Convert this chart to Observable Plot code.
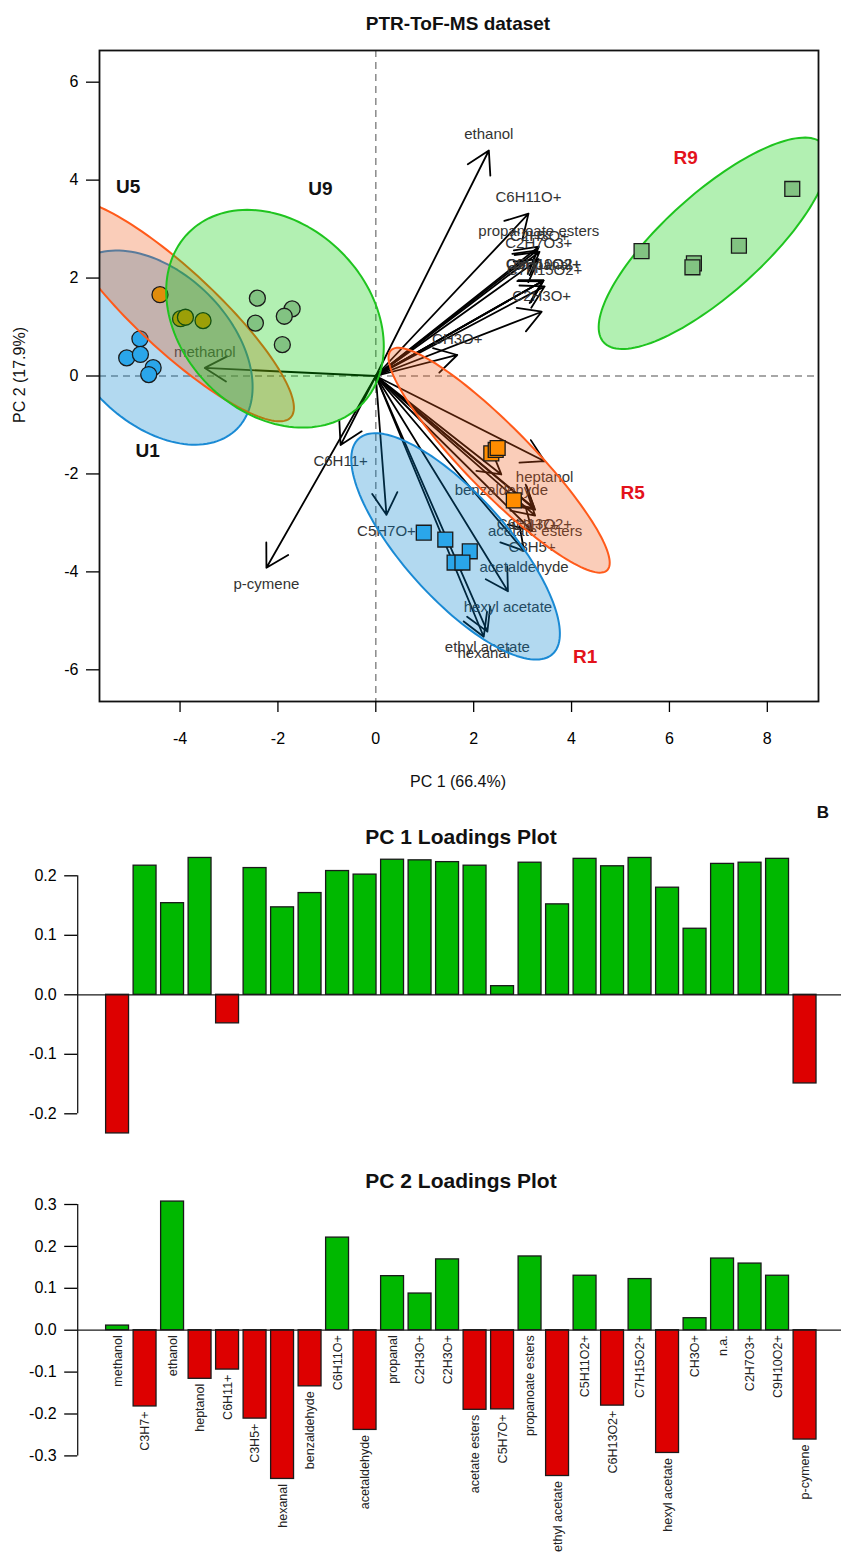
<!DOCTYPE html>
<html><head><meta charset="utf-8">
<script src="https://cdn.jsdelivr.net/npm/d3@7"></script>
<script src="https://cdn.jsdelivr.net/npm/@observablehq/plot@0.6"></script>
<style>
body{margin:0;background:#fff;font-family:'Liberation Sans',Arial,Helvetica,sans-serif;}
#wrap{position:relative;width:841px;height:1555px;overflow:hidden;background:#fff;}
.blk{position:absolute;left:0;}
.lab{position:absolute;transform:translate(-50%,-50%);white-space:nowrap;line-height:1;color:#111;}
</style></head>
<body><div id="wrap"></div>
<script>
// ---------------- data ----------------
const variables = ["methanol","C3H7+","ethanol","heptanol","C6H11+","C3H5+","hexanal","benzaldehyde","C6H11O+","acetaldehyde","propanal","C2H3O+","C2H3O+","acetate esters","C5H7O+","propanoate esters","ethyl acetate","C5H11O2+","C6H13O2+","C7H15O2+","hexyl acetate","CH3O+","n.a.","C2H7O3+","C9H10O2+","p-cymene"];
const pc1Loadings = [-0.233,0.217,0.154,0.230,-0.048,0.213,0.147,0.171,0.208,0.202,0.227,0.226,0.223,0.217,0.0145,0.222,0.152,0.2285,0.216,0.230,0.180,0.111,0.220,0.222,0.2285,-0.149];
const pc2Loadings = [0.011,-0.182,0.307,-0.116,-0.094,-0.211,-0.355,-0.134,0.221,-0.238,0.129,0.0875,0.169,-0.190,-0.189,0.176,-0.348,0.130,-0.180,0.122,-0.293,0.0286,0.171,0.159,0.130,-0.261];
const biplotScale = 15;

const groups = ["U1","U5","U9","R1","R5","R9"];
const scoresPC1 = {
  U1: [-4.82,-5.09,-4.81,-4.55,-4.64],
  U5: [-4.41,-3.99,-3.89,-3.53],
  U9: [-2.42,-2.46,-1.71,-1.87,-1.91],
  R1: [0.98,1.42,1.92,1.61,1.77],
  R5: [2.36,2.45,2.49,2.82],
  R9: [8.51,5.43,6.50,6.47,7.42]
};
const scoresPC2 = {
  U1: [0.76,0.37,0.44,0.17,0.03],
  U5: [1.66,1.17,1.20,1.13],
  U9: [1.59,1.08,1.37,1.22,0.64],
  R1: [-3.20,-3.34,-3.58,-3.81,-3.81],
  R5: [-1.58,-1.51,-1.47,-2.54],
  R9: [3.82,2.55,2.30,2.22,2.66]
};
// confidence ellipses: centre, semi-axes, orientation (degrees)
const ellipseCX = [-4.50,-4.09,-2.06,1.63,2.52,6.90];
const ellipseCY = [0.58,1.34,1.17,-3.48,-1.72,2.71];
const ellipseA  = [2.35,3.21,2.49,2.96,3.15,3.02];
const ellipseB  = [1.53,0.82,1.92,1.06,0.675,1.02];
const ellipseAngle = [-45,-42.9,-45,-48,-45.5,42];

const groupLabelX = [-4.66,-5.06,-1.13,4.28,5.25,6.33];
const groupLabelY = [-1.52,3.87,3.83,-5.73,-2.38,4.46];

const xTicks = [-4,-2,0,2,4,6,8];
const yTicks = [-6,-4,-2,0,2,4,6];
const pc1Ticks = [-0.2,-0.1,0,0.1,0.2];
const pc2Ticks = [-0.3,-0.2,-0.1,0,0.1,0.2,0.3];

// ---------------- styles ----------------
const FONT = "'Liberation Sans', Arial, Helvetica, sans-serif";
const ellFill   = {U1:"#0080cc",U5:"#ee5816",U9:"#00cc00",R1:"#0080cc",R5:"#ee5816",R9:"#00cc00"};
const ellStroke = {U1:"#1a8ad4",U5:"#ff5a1a",U9:"#1fc41f",R1:"#1a8ad4",R5:"#ff5a1a",R9:"#1fc41f"};
const ptFill    = {U1:"#2aa6ea",U5:"#e08c0c",U9:"#82c382",R1:"#2aa6ea",R5:"#ff8c00",R9:"#82c382"};
const ptSymbol  = {U1:"circle",U5:"circle",U9:"circle",R1:"square",R5:"square",R9:"square"};
const labColor  = {U1:"#111",U5:"#111",U9:"#111",R1:"#e3121b",R5:"#e3121b",R9:"#e3121b"};

const wrap = document.getElementById("wrap");
function place(node, top){ node.classList.add("blk"); node.style.top = top+"px"; wrap.appendChild(node); }
function label(text, x, y, size, bold, rot){
  const d = document.createElement("div");
  d.className = "lab"; d.textContent = text;
  d.style.left = x+"px"; d.style.top = y+"px";
  d.style.fontSize = size+"px"; d.style.fontWeight = bold ? "bold" : "normal";
  if (rot) d.style.transform = "translate(-50%,-50%) rotate(-90deg)";
  wrap.appendChild(d);
}

// ---------------- biplot ----------------
const loadRows = variables.map((name,i)=>({name, pc1: pc1Loadings[i], pc2: pc2Loadings[i], i}));

function ellipseRing(k){
  const th = ellipseAngle[k]*Math.PI/180, pts = [];
  for (let j=0;j<144;j++){
    const t = 2*Math.PI*j/144;
    pts.push({
      x: ellipseCX[k] + ellipseA[k]*Math.cos(t)*Math.cos(th) - ellipseB[k]*Math.sin(t)*Math.sin(th),
      y: ellipseCY[k] + ellipseA[k]*Math.cos(t)*Math.sin(th) + ellipseB[k]*Math.sin(t)*Math.cos(th)
    });
  }
  return pts;
}

const groupLayers = [];
groups.forEach((g,k)=>{
  groupLayers.push(Plot.line(ellipseRing(k), {x:"x", y:"y", curve:"linear-closed", fill: ellFill[g], fillOpacity:0.3, stroke: ellStroke[g], strokeWidth:2, clip:true}));
  const pts = scoresPC1[g].map((v,i)=>({x:v, y:scoresPC2[g][i]}));
  groupLayers.push(Plot.dot(pts, {x:"x", y:"y", r: ptSymbol[g]==="square" ? 8.4 : 8, symbol: ptSymbol[g], fill: ptFill[g], stroke:"#1a1a1a", strokeWidth:1.3}));
});
const groupLabelRows = groups.map((g,k)=>({g, x: groupLabelX[k], y: groupLabelY[k]}));

const biplot = Plot.plot({
  width: 841, height: 820,
  marginTop: 50, marginBottom: 119, marginLeft: 99, marginRight: 23,
  x: {domain: [-5.646, 9.046]},
  y: {domain: [-6.647, 6.647]},
  style: {fontFamily: FONT, background: "#fff"},
  marks: [
    Plot.ruleX([0], {stroke:"#8a8a8a", strokeWidth:1.5, strokeDasharray:"7,5"}),
    Plot.ruleY([0], {stroke:"#8a8a8a", strokeWidth:1.5, strokeDasharray:"7,5"}),
    Plot.arrow(loadRows, {x1: ()=>0, y1: ()=>0, x2: d=>biplotScale*d.pc1, y2: d=>biplotScale*d.pc2, stroke:"#000", strokeWidth:1.8, headLength:21, headAngle:60}),
    Plot.text(loadRows.filter(d=>d.pc2>=0), {x: d=>biplotScale*d.pc1, y: d=>biplotScale*d.pc2, text:"name", dy:-16, fontSize:15, fill:"#333"}),
    Plot.text(loadRows.filter(d=>d.pc2<0), {x: d=>biplotScale*d.pc1, y: d=>biplotScale*d.pc2, text:"name", dy:16, fontSize:15, fill:"#333"}),
    ...groupLayers,
    Plot.text(groupLabelRows, {x:"x", y:"y", text:"g", fill: d=>labColor[d.g], fontSize:19, fontWeight:"bold"}),
    Plot.frame({stroke:"#111", strokeWidth:1.8}),
    Plot.axisX({ticks: xTicks, tickSize: 11, tickPadding: 20, tickFormat: d=>String(d), fontSize: 16, label: null, strokeWidth: 1.3}),
    Plot.axisY({ticks: yTicks, tickSize: 13, tickPadding: 8, tickFormat: d=>String(d), fontSize: 16, label: null, strokeWidth: 1.3})
  ]
});
place(biplot, 0);

// ---------------- loadings bar charts ----------------
function barChart(values, ticks, yDomain, mTop, mBottom, height, withLabels){
  const rows = variables.map((name,i)=>({name, value: values[i], i}));
  const axisX0 = -1.04;
  const marks = [
    Plot.rect(rows.filter(d=>d.value>=0), {x1: d=>0.2+1.2*d.i, x2: d=>1.2+1.2*d.i, y1: ()=>0, y2:"value", fill:"#00b800", stroke:"#1a1a1a", strokeWidth:1.3}),
    Plot.rect(rows.filter(d=>d.value<0), {x1: d=>0.2+1.2*d.i, x2: d=>1.2+1.2*d.i, y1: ()=>0, y2:"value", fill:"#dd0000", stroke:"#1a1a1a", strokeWidth:1.3}),
    Plot.ruleY([0], {stroke:"#1a1a1a", strokeWidth:1.3}),
    Plot.ruleX([axisX0], {y1: ticks[0], y2: ticks[ticks.length-1], stroke:"#1a1a1a", strokeWidth:1.3}),
    Plot.axisY({ticks, tickSize: 13, tickPadding: 8, tickFormat: d=>d.toFixed(1), fontSize: 16, label: null, strokeWidth: 1.3})
  ];
  if (withLabels) {
    marks.push(Plot.text(rows, {x: d=>0.7+1.2*d.i, y: d=>Math.min(0,d.value), text:"name", rotate:-90, textAnchor:"end", dy:5, fontSize:12.5, fill:"#222"}));
  }
  return Plot.plot({
    width: 841, height,
    marginTop: mTop, marginBottom: mBottom, marginLeft: 77.2, marginRight: 0,
    x: {domain: [axisX0, 32.29], axis: null},
    y: {domain: yDomain, axis: null},
    style: {fontFamily: FONT, background: "#fff"},
    marks
  });
}
place(barChart(pc1Loadings, pc1Ticks, [-0.25, 0.25], 25.55, 16.95, 340, false), 820);
place(barChart(pc2Loadings, pc2Ticks, [-0.4, 0.35], 23.05, 57.7, 395, true), 1160);

// ---------------- titles ----------------
label("PTR-ToF-MS dataset", 458, 23, 19, true);
label("PC 1 (66.4%)", 458, 782, 16, false);
label("PC 2 (17.9%)", 20, 375, 16, false, true);
label("B", 823, 812, 17, true);
label("PC 1 Loadings Plot", 461, 836, 21, true);
label("PC 2 Loadings Plot", 461, 1180, 21, true);
</script>
</body></html>
